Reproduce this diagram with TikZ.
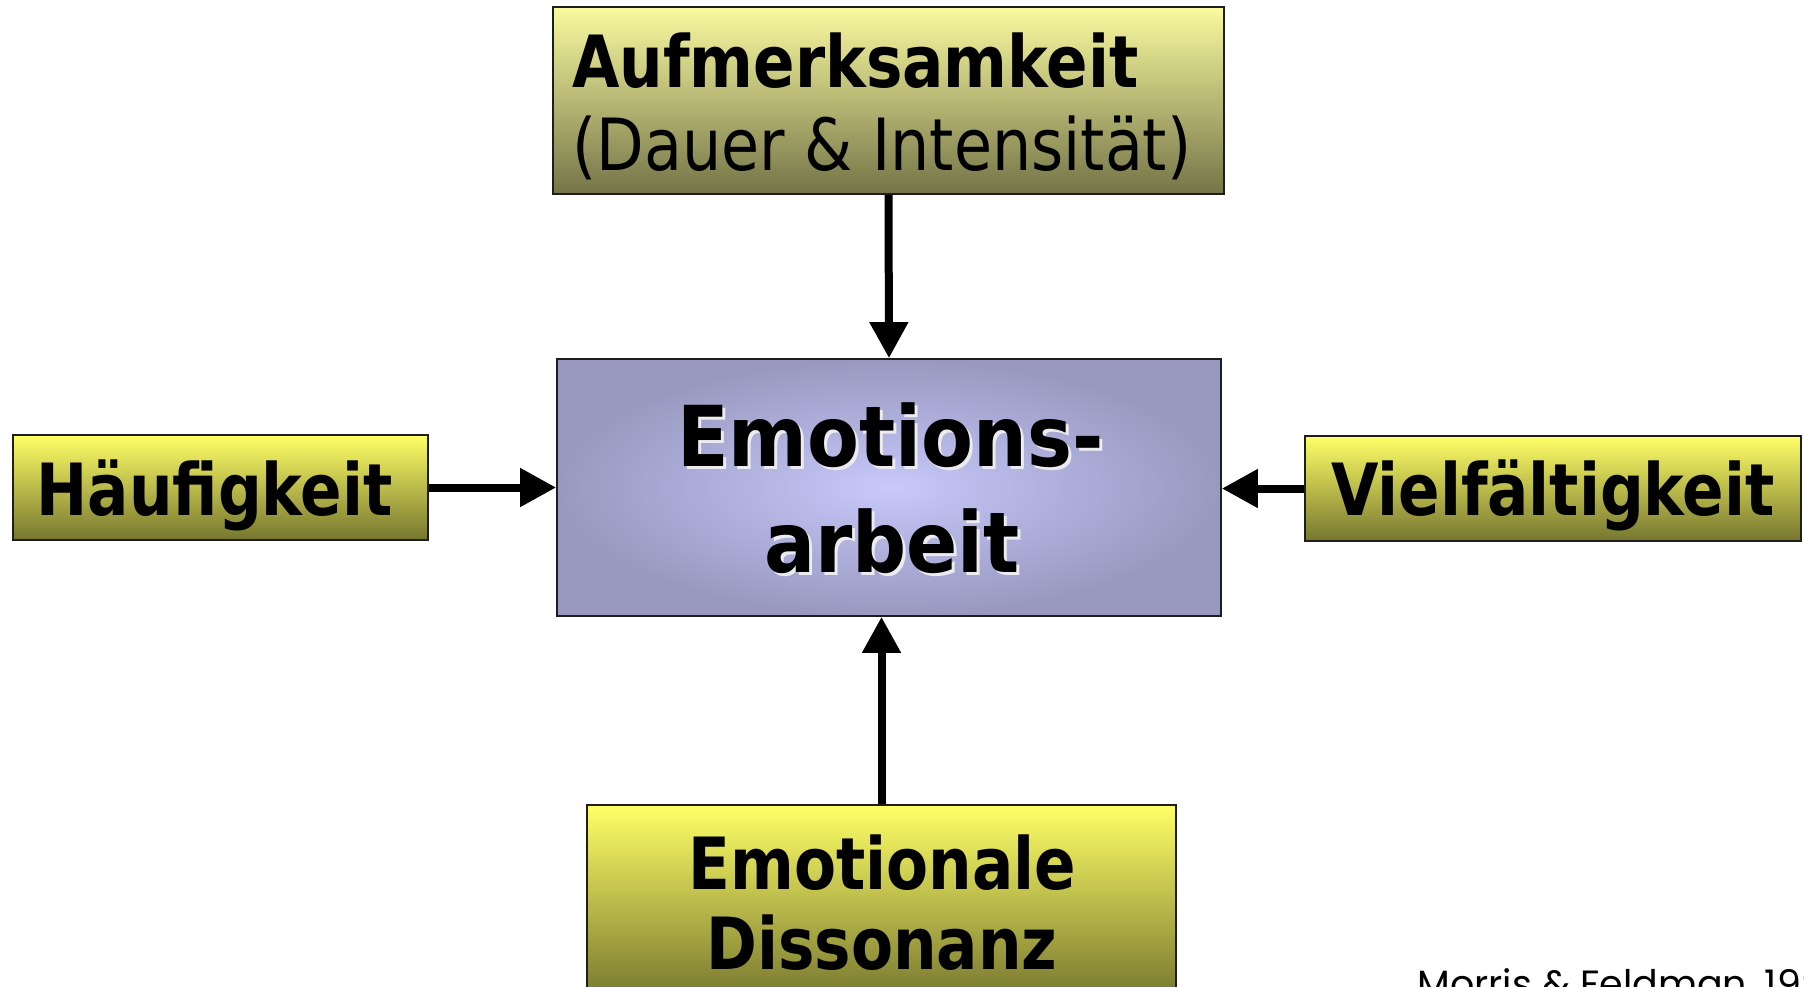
\documentclass[tikz,border=0pt]{standalone}
\usepackage{fontspec}
\setmainfont{DejaVu Sans Condensed}
\newfontfamily\tallfont{DejaVu Sans Condensed}[FakeStretch=0.945]
\newfontfamily\tallreg{DejaVu Sans Condensed}[FakeStretch=0.955]
\newfontfamily\creditfont{Poppins}
\usetikzlibrary{arrows.meta,shadings}
\definecolor{ytop}{RGB}{255,255,102}
\definecolor{ymid}{RGB}{222,222,82}
\definecolor{ybot}{RGB}{118,118,48}
\definecolor{ptop}{RGB}{250,250,160}
\definecolor{pmid}{RGB}{205,205,120}
\definecolor{pbot}{RGB}{116,116,72}
\definecolor{vin}{RGB}{200,200,250}
\definecolor{vout}{RGB}{152,152,192}
\definecolor{edge}{RGB}{30,30,30}
\definecolor{glow}{RGB}{235,235,240}
\newcommand{\fsz}[1]{\fontsize{#1}{#1}\selectfont}
\tikzset{
  ybox/.style={draw=edge, line width=0.9pt, rectangle, inner sep=0pt,
    top color=ytop, middle color=ymid, bottom color=ybot},
  pbox/.style={draw=edge, line width=0.9pt, rectangle, inner sep=0pt,
    top color=ptop, middle color=pmid, bottom color=pbot},
  cbox/.style={draw=edge, line width=0.9pt, rectangle, inner sep=0pt,
    inner color=vin, outer color=vout},
  bigtxt/.style={inner sep=0pt, font=\tallfont\bfseries\fsz{36}},
  regtxt/.style={inner sep=0pt, font=\tallreg\fsz{36}},
  ctrtxt/.style={inner sep=0pt, font=\bfseries\fsz{42}},
  arr/.style={line width=4pt, -{Triangle[width=18.5pt,length=18pt]}},
}
\begin{document}
\begin{tikzpicture}[x=0.5pt,y=-0.5pt]
\useasboundingbox (0,0) rectangle (1804,986);
% boxes
\node[pbox, minimum width=335.5pt, minimum height=93.5pt] (att) at (888.5,100.5) {};
\node[cbox, minimum width=332pt, minimum height=128.5pt] (emo) at (889,487.5) {};
\node[ybox, minimum width=207.5pt, minimum height=52.5pt] (hf) at (220.5,487.5) {};
\node[ybox, minimum width=248pt, minimum height=52.5pt] (vf) at (1553,488.5) {};
\node[ybox, minimum width=294.5pt, minimum height=97.5pt] (dis) at (881.5,902.5) {};
% arrows
\draw[arr] (att.south) -- (emo.north);
\draw[arr] (dis.north) -- (dis.north |- emo.south);
\draw[arr] (hf.east) -- (hf.east -| emo.west);
\draw[arr] (vf.west) -- (vf.west -| emo.east);
% texts
\node[bigtxt, anchor=base west] (t1) at (572,87) {Aufmerksamkeit};
\node[regtxt, anchor=base west] (t2) at (572,170) {(Dauer \& Intensität)};
\node[ctrtxt, text=glow, anchor=base] (s3) at (893.5,469) {Emotions-};
\node[ctrtxt, text=glow, anchor=base] (s4) at (895,575) {arbeit};
\node[ctrtxt, anchor=base] (t3) at (890.5,466) {Emotions-};
\node[ctrtxt, anchor=base] (t4) at (892,572) {arbeit};
\node[bigtxt, anchor=base] (t5) at (214.5,515) {Häufigkeit};
\node[bigtxt, anchor=base] (t6) at (1553,515) {Vielfältigkeit};
\node[bigtxt, anchor=base] (t7) at (882.5,889) {Emotionale};
\node[bigtxt, anchor=base] (t8) at (882,969) {Dissonanz};
\node[inner sep=0pt, font=\creditfont\fsz{19}, anchor=base west] (cr) at (1417,997) {Morris \& Feldman, 1996};
\end{tikzpicture}
\end{document}
